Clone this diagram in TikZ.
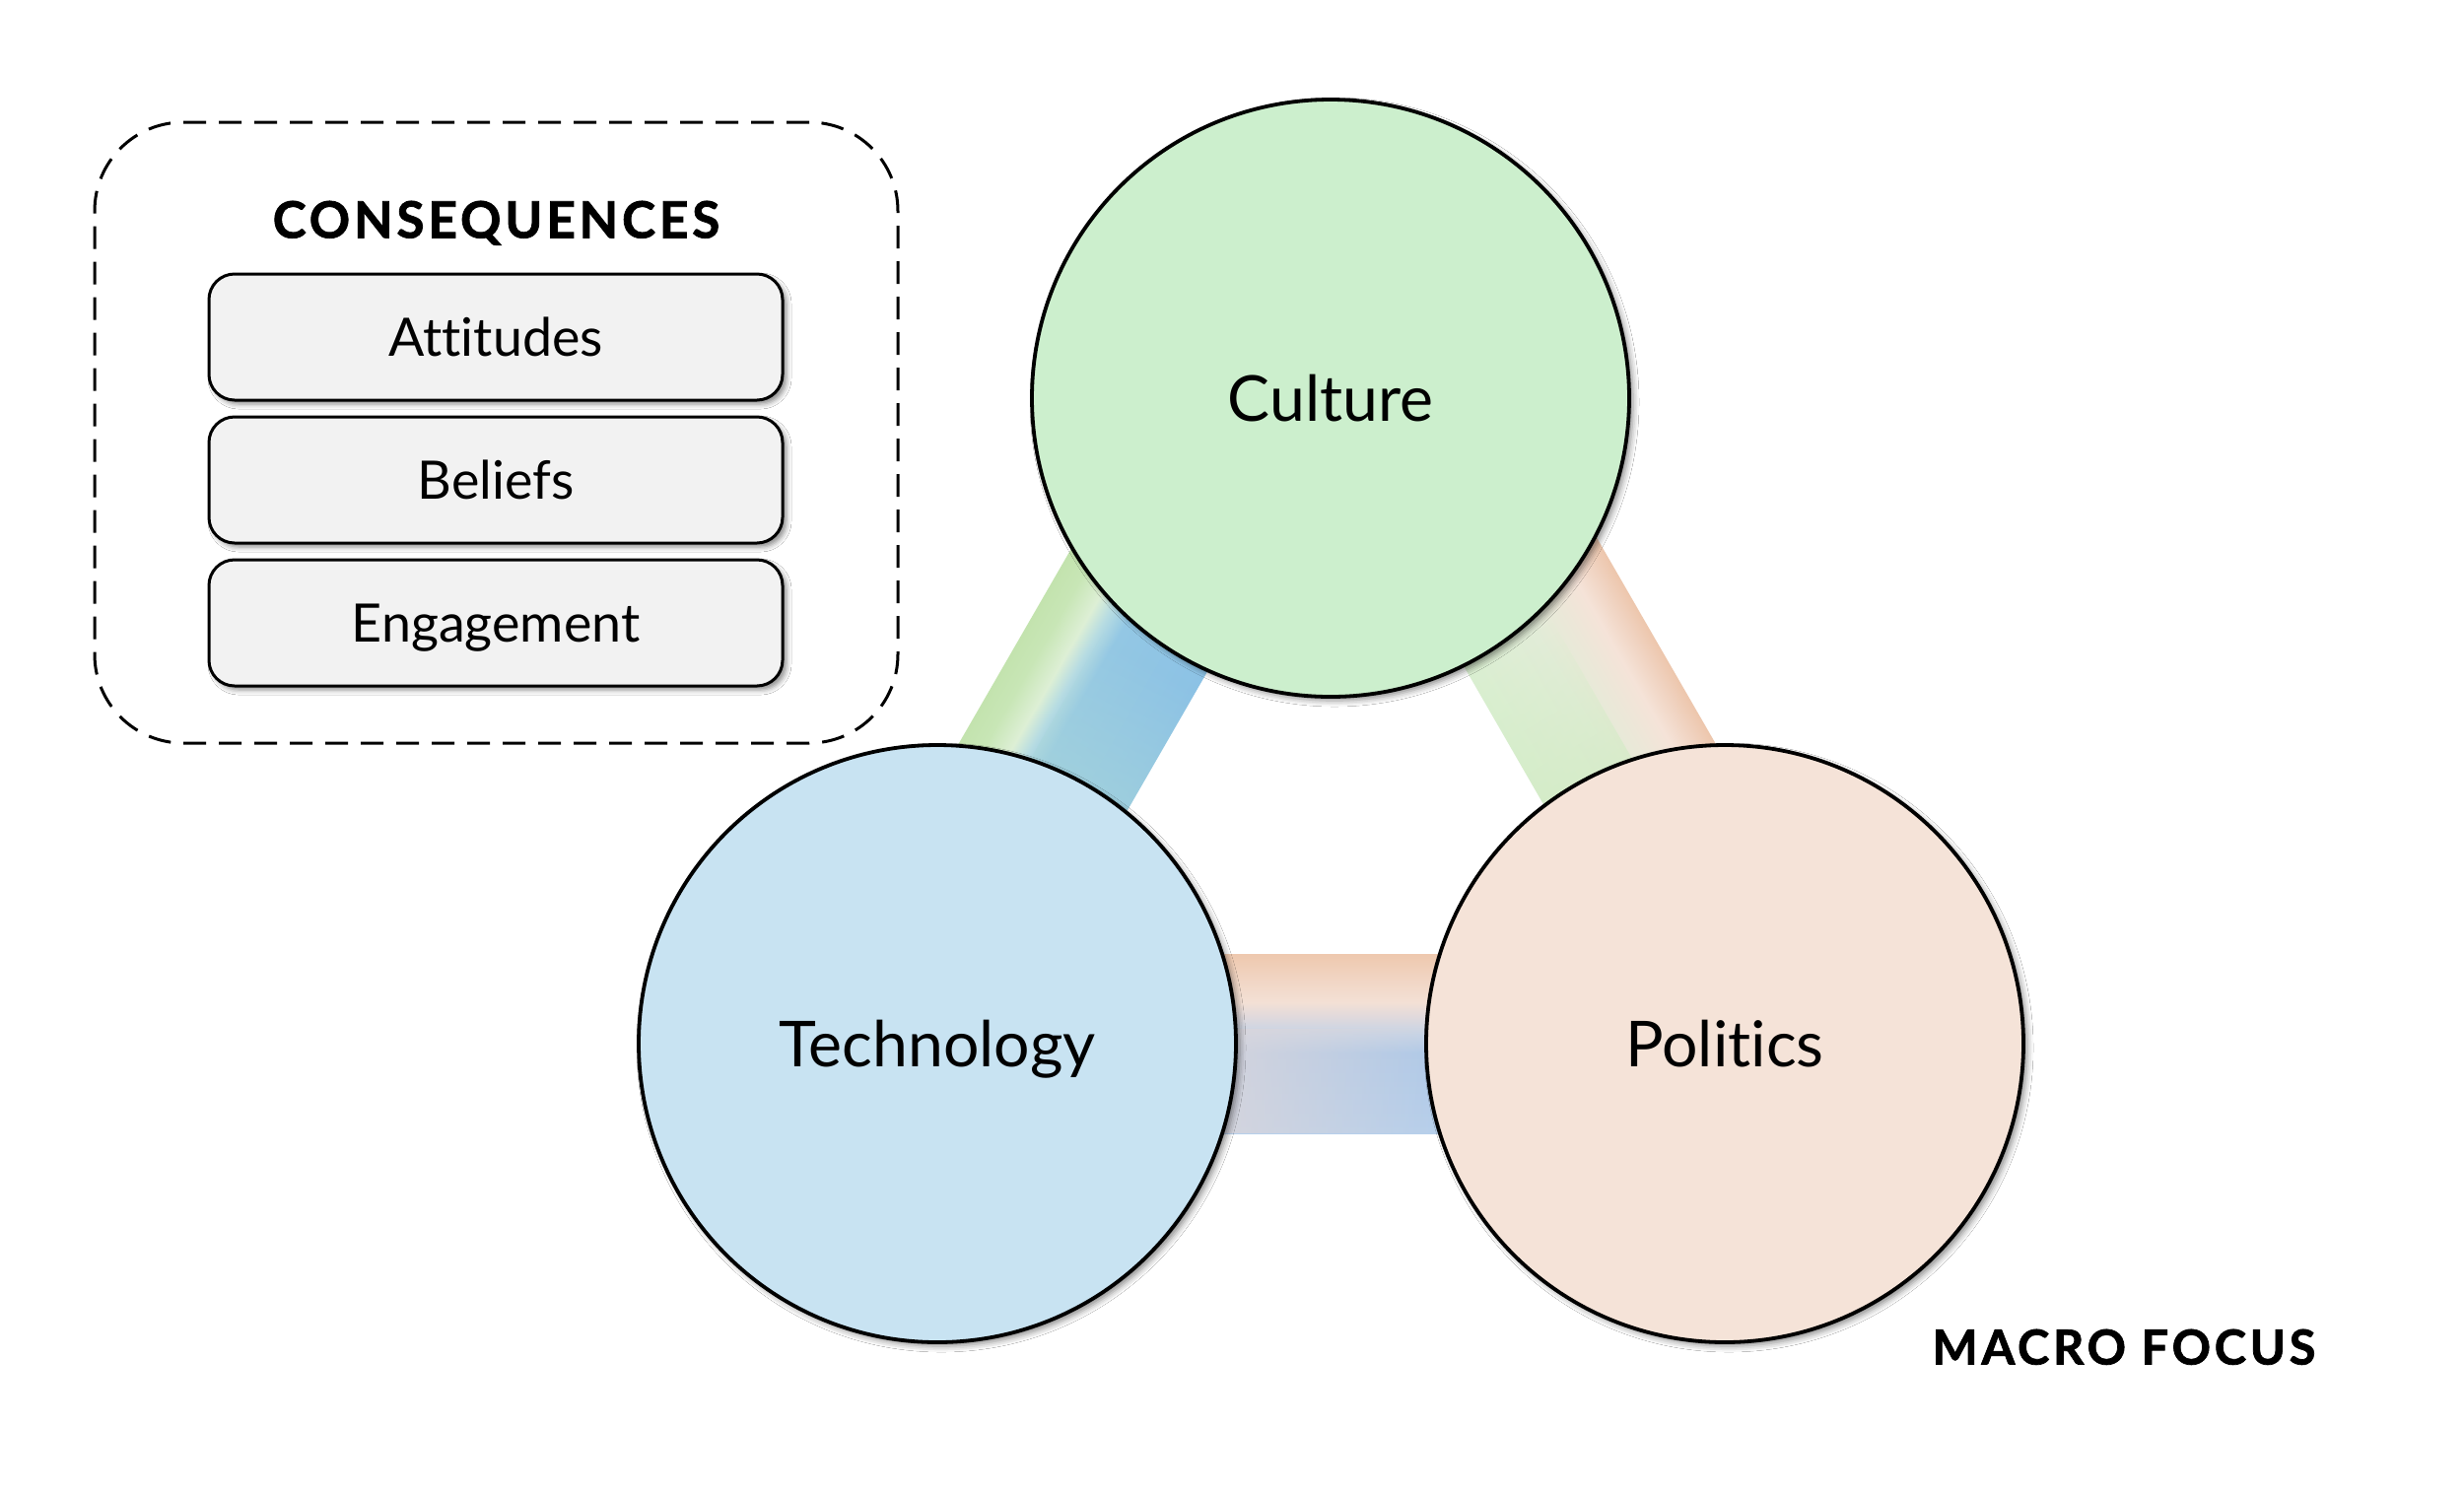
\documentclass[tikz,border=0pt]{standalone}
\usepackage{fontspec}
\setmainfont{Lato}[Ligatures={NoCommon}]
\newfontfamily\headfont{Lato}[Ligatures={NoCommon}, LetterSpace=7.5, BoldFeatures={FakeBold=1.5}]
\usetikzlibrary{shadows.blur,fadings}
\definecolor{cultfill}{HTML}{CCEFCD}
\definecolor{techfill}{HTML}{C8E3F2}
\definecolor{polfill}{HTML}{F5E3D8}
\definecolor{boxfill}{HTML}{F2F2F2}
% left band (inner = blue, outer = green)
\definecolor{la}{HTML}{8CC2E5}
\definecolor{lb}{HTML}{93C7E4}
\definecolor{lc}{HTML}{B7DCE2}
\definecolor{ld}{HTML}{DDEFD5}
\definecolor{le}{HTML}{C8E6B6}
\definecolor{lf}{HTML}{C3E3AE}
\pgfdeclareverticalshading{leftband}{100bp}{color(0bp)=(la); color(25bp)=(la); color(51.5bp)=(lb); color(57bp)=(lc); color(61.5bp)=(ld); color(68.5bp)=(le); color(75bp)=(lf); color(100bp)=(lf)}
% bottom band (top = orange, bottom = blue)
\definecolor{ha}{HTML}{B6CFEB}
\definecolor{hb}{HTML}{AFC9E8}
\definecolor{hc}{HTML}{C5D3E6}
\definecolor{hd}{HTML}{E0D9DC}
\definecolor{he}{HTML}{F3E0D5}
\definecolor{hf}{HTML}{F1D6C5}
\definecolor{hg}{HTML}{EEC8AE}
\pgfdeclareverticalshading{bottomband}{100bp}{color(0bp)=(ha); color(25bp)=(ha); color(47.5bp)=(hb); color(52.5bp)=(hc); color(57.5bp)=(hd); color(61.5bp)=(he); color(67.5bp)=(hf); color(75bp)=(hg); color(100bp)=(hg)}
% right band (inner = green, outer = orange)
\definecolor{ra}{HTML}{DAEFD1}
\definecolor{rb}{HTML}{E2EDD8}
\definecolor{rc}{HTML}{ECE7D8}
\definecolor{rd}{HTML}{F5E3D8}
\definecolor{re}{HTML}{F0D3C1}
\definecolor{rf}{HTML}{EDC6AC}
\pgfdeclareverticalshading{rightband}{100bp}{color(0bp)=(ra); color(25bp)=(ra); color(47bp)=(rb); color(57bp)=(rc); color(64bp)=(rd); color(70bp)=(re); color(75bp)=(rf); color(100bp)=(rf)}
\definecolor{tealov}{HTML}{A9D6D9}
\definecolor{greenov}{HTML}{D2EBC4}
\definecolor{grayov}{HTML}{DBD6DB}

\begin{document}
\begin{tikzpicture}[x=0.1mm, y=-0.1mm,
  topic/.style={circle, draw=black, line width=0.38mm, inner sep=0pt,
    minimum size=60.6mm, font=\fontsize{18.3}{22}\selectfont,
    text height=4.6mm, text depth=0pt,
    blur shadow={shadow xshift=0.4mm, shadow yshift=-0.4mm,
      shadow blur radius=0.6mm, shadow opacity=45}},
  itembox/.style={draw=black, line width=0.3mm, fill=boxfill,
    rounded corners=2.6mm, minimum width=58.2mm, minimum height=12.8mm,
    font=\fontsize{15.3}{18}\selectfont, text height=3.9mm, text depth=0pt,
    blur shadow={shadow xshift=0.4mm, shadow yshift=-0.4mm,
      shadow blur radius=0.5mm, shadow opacity=45}},
  heading/.style={font=\headfont\bfseries\fontsize{14.6}{17}\selectfont,
    text height=3.67mm, text depth=0pt, inner sep=0pt},
  conbox/.style={draw=black, line width=0.3mm, dash pattern=on 2.3mm off 1.3mm,
    rounded corners=9mm, minimum width=81.5mm, minimum height=63mm, inner sep=0pt}
]
\fill[white] (0,0) rectangle (2500,1516);
\useasboundingbox (0,0) rectangle (2500,1516);

% band triangle vertices
\coordinate (vT) at (902,1059);
\coordinate (vC) at (1357,272);
\coordinate (vP) at (1811,1059);

% Technology -- Culture
\begin{scope}[transform canvas={shift={(vT)}, rotate=60}]
  \shade[shading=leftband] (0,-91) rectangle (909,91);
  \fill[tealov, path fading=east] (230,-20) rectangle (470,91);
\end{scope}
% Culture -- Politics
\begin{scope}[transform canvas={shift={(vC)}, rotate=-60}]
  \shade[shading=rightband] (0,-91) rectangle (909,91);
  \fill[greenov, path fading=west] (420,-10) rectangle (660,91);
\end{scope}
% Technology -- Politics
\begin{scope}[transform canvas={shift={(vT)}}]
  \shade[shading=bottomband] (0,-91) rectangle (909,91);
  \fill[grayov, path fading=east] (290,-15) rectangle (560,91);
\end{scope}

% circles
\node[topic, fill=cultfill] (cult) at (1350,404) {Culture};
\node[topic, fill=techfill] (tech) at (951,1059) {Technology};
\node[topic, fill=polfill] (pol) at (1750,1059) {Politics};

% consequences panel
\node[conbox] (cons) at (503.5,439) {};
\node[heading] (head) at (503.5,223) {CONSEQUENCES};
\node[itembox] (att) at (503,342) {Attitudes};
\node[itembox] (bel) at (503,487) {Beliefs};
\node[itembox] (eng) at (503,632) {Engagement};

\node[heading, font=\headfont\bfseries\fontsize{13.9}{16}\selectfont, text height=3.5mm] (macro) at (2155,1367) {MACRO FOCUS};
\end{tikzpicture}
\end{document}
